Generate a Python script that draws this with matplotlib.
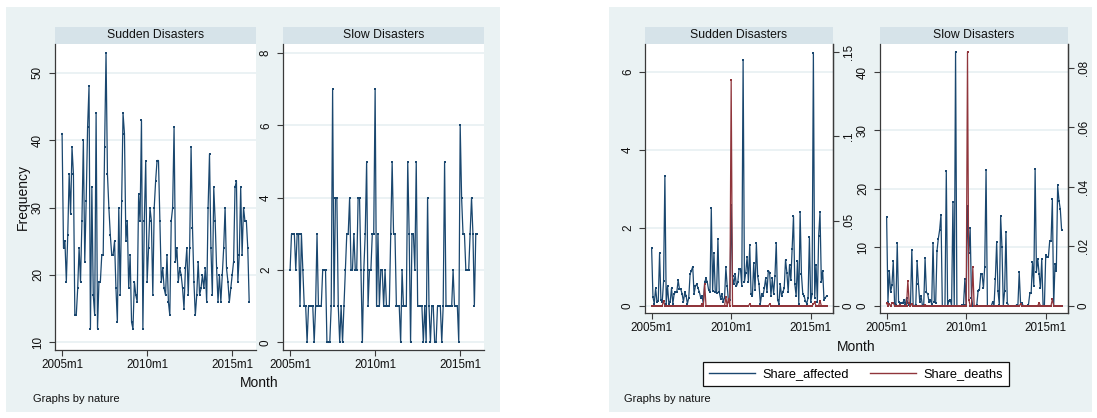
import matplotlib
matplotlib.use("Agg")
import matplotlib.pyplot as plt
from matplotlib.patches import Rectangle
from matplotlib.lines import Line2D
import numpy as np

# ---------------------------------------------------------------- data
month_ticks = [0, 60, 120]
month_labels = ["2005m1", "2010m1", "2015m1"]

panel_titles = ["Sudden Disasters", "Slow Disasters"]

freq_sudden = [
    41, 24, 25, 19, 26, 35, 29, 39, 35, 14,
    14, 18, 24, 19, 28, 40, 22, 31, 42, 48,
    12, 33, 17, 14, 44, 12, 19, 19, 23, 23,
    39, 53, 35, 30, 26, 23, 23, 25, 18, 13,
    30, 17, 31, 44, 41, 25, 28, 18, 23, 13,
    12, 19, 17, 16, 32, 28, 43, 12, 28, 37,
    19, 24, 30, 28, 17, 30, 34, 37, 37, 28,
    19, 21, 18, 17, 23, 16, 14, 28, 30, 42,
    22, 24, 19, 21, 20, 18, 15, 21, 24, 17,
    24, 39, 27, 19, 14, 17, 22, 17, 18, 20,
    18, 21, 16, 30, 38, 24, 17, 33, 28, 21,
    16, 20, 16, 20, 24, 30, 21, 19, 16, 18,
    20, 22, 33, 34, 19, 23, 33, 23, 30, 28,
    28, 24, 16,
]

freq_slow = [
    2, 3, 3, 3, 2, 3, 3, 1, 3, 2,
    1, 1, 0, 1, 1, 1, 1, 0, 1, 3,
    1, 1, 1, 2, 2, 2, 0, 0, 0, 1,
    7, 1, 4, 4, 1, 0, 1, 0, 1, 2,
    3, 3, 4, 2, 2, 3, 2, 2, 4, 4,
    2, 0, 2, 3, 5, 1, 2, 2, 3, 3,
    7, 1, 3, 1, 2, 2, 1, 2, 1, 1,
    1, 3, 5, 3, 3, 1, 1, 1, 0, 2,
    1, 1, 1, 5, 3, 0, 3, 3, 2, 5,
    1, 1, 1, 1, 0, 1, 0, 4, 1, 0,
    1, 1, 0, 0, 1, 1, 1, 0, 1, 5,
    1, 1, 1, 1, 1, 2, 1, 1, 1, 0,
    6, 4, 3, 3, 2, 2, 2, 3, 4, 3,
    1, 3, 3,
]

affected_sudden = [
    1.47, 0.22, 0.05, 0.45, 0.10, 0.12, 1.35, 0.15, 0.10, 0.62,
    3.33, 0.05, 0.50, 0.05, 0.10, 0.45, 0.05, 0.30, 0.35, 0.35,
    0.65, 0.42, 0.42, 0.30, 0.10, 0.35, 0.25, 0.05, 0.20, 0.80,
    0.90, 1.00, 0.30, 0.50, 0.55, 0.45, 0.35, 0.20, 0.25, 0.05,
    0.60, 0.70, 0.60, 0.40, 0.35, 2.50, 0.38, 1.35, 0.35, 0.32,
    1.70, 0.35, 0.18, 0.30, 0.10, 0.20, 0.98, 0.50, 0.10, 0.15,
    2.58, 0.75, 0.55, 0.80, 0.50, 0.60, 0.95, 0.95, 0.50, 6.30,
    0.60, 0.85, 1.25, 0.60, 1.55, 0.30, 0.25, 1.10, 0.40, 1.60,
    0.75, 0.55, 0.05, 0.30, 0.25, 0.45, 0.70, 0.35, 0.90, 0.85,
    0.25, 0.70, 0.30, 0.75, 1.62, 0.15, 0.05, 0.55, 0.25, 0.35,
    0.45, 1.18, 0.85, 0.35, 1.05, 0.65, 1.45, 2.30, 0.55, 0.25,
    1.15, 0.05, 2.40, 0.80, 0.30, 0.25, 0.12, 0.05, 0.20, 1.75,
    0.08, 0.30, 6.50, 0.20, 1.05, 0.10, 1.80, 2.40, 0.60, 0.90,
    0.15, 0.20, 0.25,
]

deaths_sudden = [
    0, 0, 0, 0, 0, 0, 0, 0, 0, 0.003,
    0, 0, 0, 0, 0, 0, 0, 0, 0, 0,
    0, 0, 0, 0, 0, 0, 0, 0, 0, 0,
    0, 0, 0, 0, 0, 0, 0, 0, 0.001, 0,
    0.013, 0, 0, 0, 0, 0, 0, 0, 0, 0,
    0, 0, 0, 0, 0, 0, 0.005, 0, 0.004, 0,
    0.1335, 0, 0, 0, 0, 0, 0, 0, 0, 0,
    0, 0, 0, 0, 0.001, 0, 0, 0, 0, 0,
    0, 0, 0, 0, 0, 0, 0, 0, 0, 0.001,
    0, 0, 0, 0, 0, 0, 0, 0, 0, 0,
    0, 0, 0, 0, 0, 0, 0, 0, 0, 0,
    0, 0, 0, 0, 0, 0, 0, 0, 0, 0,
    0, 0, 0.001, 0.002, 0, 0, 0, 0.003, 0, 0,
    0, 0, 0,
]

affected_slow = [
    15.1, 0.7, 6.0, 2.3, 3.5, 7.6, 0.3, 0.1, 10.7, 0.7,
    0.5, 0.4, 0.4, 0.9, 0.2, 1.3, 0.4, 0.1, 0.3, 9.6,
    0.0, 0.0, 0.2, 7.6, 3.7, 0.6, 1.6, 0.0, 0.2, 8.1,
    2.3, 2.0, 0.6, 0.9, 0.3, 10.8, 0.6, 0.5, 9.4, 11.5,
    13.0, 15.6, 0.0, 0.0, 0.0, 23.0, 0.0, 0.8, 1.0, 0.0,
    17.8, 0.0, 43.5, 0.0, 0.0, 0.0, 0.0, 0.1, 0.2, 4.5,
    0.1, 17.0, 9.0, 13.3, 1.4, 0.0, 0.0, 0.0, 0.1, 2.6,
    2.7, 5.4, 5.4, 3.0, 6.7, 23.3, 0.0, 0.0, 0.0, 0.0,
    0.7, 0.0, 4.6, 10.9, 2.5, 0.1, 15.3, 10.0, 0.0, 2.5,
    12.7, 0.5, 0.0, 0.0, 0.0, 0.0, 0.0, 0.0, 0.1, 0.0,
    5.7, 0.5, 0.5, 0.0, 0.0, 0.0, 0.0, 0.2, 2.1, 2.1,
    7.4, 3.4, 23.4, 5.8, 8.0, 5.4, 3.0, 8.0, 0.0, 0.0,
    8.6, 8.4, 8.3, 11.1, 11.1, 18.2, 0.0, 7.1, 6.0, 20.6,
    18.0, 16.5, 12.9,
]

deaths_slow = [
    0.0008, 0, 0.0005, 0, 0.0008, 0.001, 0, 0, 0, 0,
    0.0003, 0, 0, 0, 0, 0, 0.0084, 0.001, 0, 0.0005,
    0, 0, 0, 0, 0, 0, 0, 0, 0, 0.0003,
    0, 0, 0, 0, 0, 0, 0, 0, 0, 0,
    0, 0, 0, 0, 0, 0, 0, 0, 0, 0,
    0, 0, 0, 0, 0, 0, 0, 0, 0, 0,
    0, 0.0855, 0.002, 0, 0, 0.0129, 0, 0, 0, 0,
    0, 0, 0, 0, 0, 0, 0, 0, 0, 0,
    0, 0, 0, 0, 0, 0, 0, 0, 0, 0,
    0, 0, 0, 0, 0, 0, 0, 0, 0, 0,
    0, 0.0005, 0, 0, 0, 0, 0, 0, 0, 0,
    0, 0, 0, 0, 0, 0.001, 0, 0, 0, 0,
    0, 0, 0, 0, 0, 0.0022, 0, 0, 0, 0,
    0, 0, 0,
]

# ---------------------------------------------------------------- style
W, H = 1097, 418
BG = "#EAF2F3"
STRIP = "#D6E3E9"
GRID = "#E6EFF1"
NAVY = "#1A476F"
MAROON = "#90353B"
AXC = "#3A3A3A"
FONT = ["Liberation Sans", "DejaVu Sans"]
plt.rcParams["font.family"] = FONT
TICK_FS = 8.4
TITLE_FS = 8.8
AXTITLE_FS = 10.0

fig = plt.figure(figsize=(W / 100, H / 100), dpi=100)
fig.patch.set_facecolor("white")


def fx(x):
    return x / W


def fy(y):
    return 1 - y / H


def add_region(x0, y0, x1, y1, color, z=-10):
    fig.patches.append(Rectangle((fx(x0), fy(y1)), fx(x1 - x0), (y1 - y0) / H,
                                 transform=fig.transFigure, facecolor=color,
                                 edgecolor="none", zorder=z))


def px_axes(x0, y0, x1, y1):
    return fig.add_axes([fx(x0), fy(y1), fx(x1 - x0), (y1 - y0) / H])


def strip(x0, x1, title):
    add_region(x0, 27, x1, 44, STRIP, z=-5)
    fig.text(fx((x0 + x1) / 2), fy(35.5), title, ha="center", va="center",
             fontsize=TITLE_FS, color="#111111")


def style_axes(ax, yticks, ylabels, ylim, right_spine=False):
    ax.set_facecolor("white")
    ax.set_xlim(-5.0, 136.8)
    ax.set_ylim(*ylim)
    ax.set_xticks(month_ticks)
    ax.set_xticklabels(month_labels)
    ax.set_yticks(yticks)
    ax.set_yticklabels(ylabels, rotation=90, va="center")
    ax.grid(axis="y", color=GRID, lw=1.1)
    ax.set_axisbelow(True)
    for s in ["top", "right"]:
        ax.spines[s].set_visible(False)
    for s in ["left", "bottom"]:
        ax.spines[s].set_color(AXC)
        ax.spines[s].set_linewidth(0.9)
    if right_spine:
        ax.spines["right"].set_visible(True)
        ax.spines["right"].set_color(AXC)
        ax.spines["right"].set_linewidth(0.9)
    ax.tick_params(axis="both", direction="out", length=4, width=0.8,
                   color=AXC, labelsize=TICK_FS, labelcolor="#111111")
    ax.tick_params(axis="y", pad=4)
    ax.tick_params(axis="x", pad=2.5)


def series(ax, y, color):
    x = np.arange(len(y))
    ax.plot(x, y, color=color, lw=0.9, marker="s", ms=1.6, mew=0,
            solid_joinstyle="miter")


# ---------------------------------------------------------------- backgrounds
add_region(6, 7, 500, 412, BG)
add_region(609, 7, 1092, 412, BG)

# ---------------------------------------------------------------- left graph: frequency
axA = px_axes(55, 44, 256, 350)
style_axes(axA, [10, 20, 30, 40, 50], ["10", "20", "30", "40", "50"], (8.86, 54.3))
series(axA, freq_sudden, NAVY)
strip(55, 256, panel_titles[0])

axB = px_axes(283, 44, 484, 350)
style_axes(axB, [0, 2, 4, 6, 8], ["0", "2", "4", "6", "8"], (-0.21, 8.25))
series(axB, freq_slow, NAVY)
strip(283, 484, panel_titles[1])

fig.text(fx(23), fy(197), "Frequency", rotation=90, ha="center", va="center",
         fontsize=AXTITLE_FS, color="#111111")
fig.text(fx(259), fy(383), "Month", ha="center", va="center",
         fontsize=AXTITLE_FS, color="#111111")
fig.text(fx(33), fy(399), "Graphs by nature", ha="left", va="center",
         fontsize=8.0, color="#111111")

# ---------------------------------------------------------------- right graph: shares
axC = px_axes(645, 44, 833, 313)
style_axes(axC, [0, 2, 4, 6], ["0", "2", "4", "6"], (-0.19, 6.72), right_spine=True)
series(axC, affected_sudden, NAVY)
axC2 = axC.twinx()
axC2.set_ylim(-0.0043, 0.1546)
axC2.set_yticks([0, 0.05, 0.10, 0.15])
axC2.set_yticklabels(["0", ".05", ".1", ".15"], rotation=90, va="center")
series(axC2, deaths_sudden, MAROON)
strip(645, 833, panel_titles[0])

axD = px_axes(880, 44, 1068, 313)
style_axes(axD, [0, 10, 20, 30, 40], ["0", "10", "20", "30", "40"], (-1.25, 44.8), right_spine=True)
series(axD, affected_slow, NAVY)
axD2 = axD.twinx()
axD2.set_ylim(-0.00246, 0.0881)
axD2.set_yticks([0, 0.02, 0.04, 0.06, 0.08])
axD2.set_yticklabels(["0", ".02", ".04", ".06", ".08"], rotation=90, va="center")
series(axD2, deaths_slow, MAROON)
strip(880, 1068, panel_titles[1])

for ax2 in (axC2, axD2):
    for s in ["top", "left", "bottom"]:
        ax2.spines[s].set_visible(False)
    ax2.spines["right"].set_color(AXC)
    ax2.spines["right"].set_linewidth(0.9)
    ax2.tick_params(axis="y", direction="out", length=4, width=0.8, color=AXC,
                    labelsize=TICK_FS, labelcolor="#111111", pad=3)

fig.text(fx(856), fy(347), "Month", ha="center", va="center",
         fontsize=AXTITLE_FS, color="#111111")
fig.text(fx(624), fy(399), "Graphs by nature", ha="left", va="center",
         fontsize=8.0, color="#111111")

handles = [Line2D([], [], color=NAVY, lw=1.0), Line2D([], [], color=MAROON, lw=1.0)]
leg = fig.legend(handles, ["Share_affected", "Share_deaths"], loc="center",
                 bbox_to_anchor=(fx(856), fy(374)), ncol=2, frameon=True,
                 fancybox=False, edgecolor="#111111", facecolor="white",
                 fontsize=9.2, handlelength=3.6, handletextpad=0.55,
                 columnspacing=1.7, borderpad=0.45, framealpha=1)
leg.get_frame().set_linewidth(0.9)

fig.savefig("out.png", dpi=100, facecolor="white")
